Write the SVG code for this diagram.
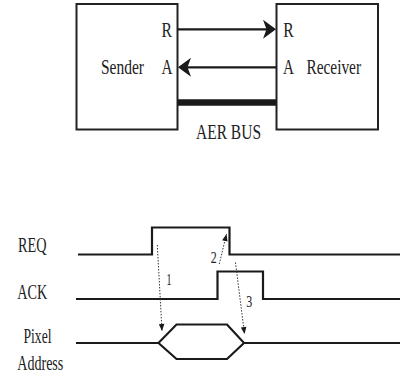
<svg xmlns="http://www.w3.org/2000/svg" width="400" height="380" viewBox="0 0 400 380">
<style>
.t{font-family:"Liberation Serif","Times New Roman",serif;font-size:22px;fill:#222}
.d{font-family:"Liberation Serif","Times New Roman",serif;font-size:17px;fill:#222}
.box{fill:#fff;stroke:#222;stroke-width:2}
.wire{fill:none;stroke:#1a1a1a;stroke-width:2.3}
.sig{fill:none;stroke:#1a1a1a;stroke-width:2.2;stroke-linejoin:miter}
.dot{fill:none;stroke:#333;stroke-width:1;stroke-dasharray:1.5 1.5}
</style>
<defs>
<marker id="big" markerUnits="userSpaceOnUse" viewBox="-10 -10 15 20" refX="0" refY="0" markerWidth="15" markerHeight="20" orient="auto" overflow="visible">
<path d="M4,0 L-9,-9.5 L-5.5,0 L-9,9.5 Z" fill="#1a1a1a"/>
</marker>
<marker id="small" markerUnits="userSpaceOnUse" viewBox="-8 -4 9 8" refX="0" refY="0" markerWidth="9" markerHeight="8" orient="auto" overflow="visible">
<path d="M0,0 L-7,-2.8 L-7,2.8 Z" fill="#1a1a1a"/>
</marker>
</defs>
<rect width="400" height="380" fill="#fff"/>

<g id="sender">
<rect class="box" x="76.5" y="4" width="101" height="125.5"/>
<text class="t" x="101" y="74" textLength="43" lengthAdjust="spacingAndGlyphs">Sender</text>
<text class="t" x="161.5" y="36.5" textLength="10.5" lengthAdjust="spacingAndGlyphs">R</text>
<text class="t" x="161.5" y="74" textLength="11" lengthAdjust="spacingAndGlyphs">A</text>
</g>

<g id="receiver">
<rect class="box" x="276.5" y="4" width="101.5" height="125.5"/>
<text class="t" x="283.3" y="36.5" textLength="10.5" lengthAdjust="spacingAndGlyphs">R</text>
<text class="t" x="283" y="74" textLength="11" lengthAdjust="spacingAndGlyphs">A</text>
<text class="t" x="306.5" y="74" textLength="54.5" lengthAdjust="spacingAndGlyphs">Receiver</text>
</g>

<g id="connectors">
<line class="wire" x1="177.5" y1="29.3" x2="272" y2="29.3" marker-end="url(#big)"/>
<line class="wire" x1="276.5" y1="67.3" x2="182" y2="67.3" marker-end="url(#big)"/>
<line x1="177.5" y1="102.5" x2="276.5" y2="102.5" stroke="#1a1a1a" stroke-width="6.5"/>
</g>

<g id="aer-bus-label">
<text class="t" x="196" y="138.5" textLength="65" lengthAdjust="spacingAndGlyphs">AER BUS</text>
</g>

<g id="timing">
<text class="t" x="18" y="252" textLength="28.5" lengthAdjust="spacingAndGlyphs">REQ</text>
<text class="t" x="17.3" y="298.5" textLength="30" lengthAdjust="spacingAndGlyphs">ACK</text>
<text class="t" x="23.5" y="343" textLength="28" lengthAdjust="spacingAndGlyphs">Pixel</text>
<text class="t" x="17.3" y="370" textLength="46" lengthAdjust="spacingAndGlyphs">Address</text>

<path class="sig" d="M78,254.5 H152 V227.5 H229.5 V254.5 H400"/>
<path class="sig" d="M76,299 H217.5 V271.5 H263 V299 H400"/>
<path class="sig" d="M76,343 H158.5 L176.5,324.5 H227 L244,343 H400 M158.5,343 L176.5,359 H227 L244,343"/>

<line class="dot" x1="157.3" y1="245" x2="162" y2="331" marker-end="url(#small)"/>
<line class="dot" x1="219.3" y1="264" x2="226.5" y2="234" marker-end="url(#small)"/>
<line class="dot" x1="235.5" y1="262.5" x2="244.5" y2="334" marker-end="url(#small)"/>

<text class="d" x="166.5" y="285" textLength="5" lengthAdjust="spacingAndGlyphs">1</text>
<text class="d" x="210.8" y="263" textLength="6" lengthAdjust="spacingAndGlyphs">2</text>
<text class="d" x="246.3" y="306.5" textLength="6" lengthAdjust="spacingAndGlyphs">3</text>
</g>
</svg>
